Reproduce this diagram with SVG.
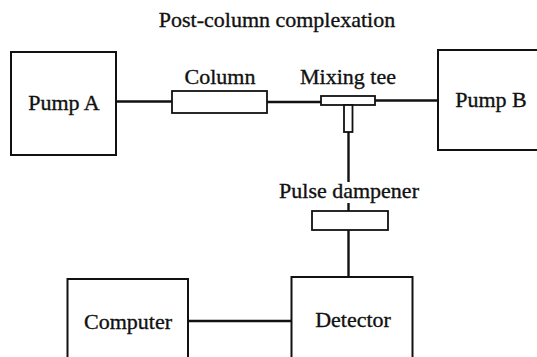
<svg xmlns="http://www.w3.org/2000/svg" width="537" height="357" viewBox="0 0 537 357">
  <style>
    .box { fill: #fff; stroke: #111; stroke-width: 2; }
    .part { fill: #fff; stroke: #111; stroke-width: 1.8; }
    .pipe { fill: none; stroke: #111; stroke-width: 2.4; }
    text { font-family: 'Liberation Serif', 'DejaVu Serif', serif; font-size: 22px; fill: #111; stroke: #111; stroke-width: 0.35; text-anchor: middle; }
  </style>
  <rect width="537" height="357" fill="#fff"/>

  <text x="277" y="27" font-family="Liberation Serif, serif">Post-column complexation</text>

  <!-- tubing and signal lines -->
  <g id="connectors">
    <line class="pipe" x1="116" y1="101.5" x2="172" y2="101.5"/>
    <line class="pipe" x1="267" y1="102" x2="321" y2="102"/>
    <line class="pipe" x1="375" y1="100.5" x2="438" y2="100.5"/>
    <line class="pipe" x1="348.5" y1="132" x2="348.5" y2="182"/>
    <line class="pipe" x1="348.5" y1="203" x2="348.5" y2="211"/>
    <line class="pipe" x1="348.5" y1="230" x2="348.5" y2="277"/>
    <line class="pipe" x1="188" y1="321" x2="291.5" y2="321"/>
  </g>

  <g id="pump-a">
    <rect class="box" x="11" y="52" width="105" height="103"/>
    <text x="64" y="110" font-family="Liberation Serif, serif">Pump A</text>
  </g>

  <g id="column">
    <rect class="part" x="172" y="91" width="95" height="22"/>
    <text x="220" y="84" font-family="Liberation Serif, serif">Column</text>
  </g>

  <g id="mixing-tee">
    <rect class="part" x="321" y="96" width="54" height="9"/>
    <rect class="part" x="344" y="105" width="8.5" height="27"/>
    <text x="348" y="84" font-family="Liberation Serif, serif">Mixing tee</text>
  </g>

  <g id="pump-b">
    <rect class="box" x="438" y="50" width="110" height="100"/>
    <text x="491" y="107" font-family="Liberation Serif, serif">Pump B</text>
  </g>

  <g id="pulse-dampener">
    <text x="349" y="198" font-family="Liberation Serif, serif">Pulse dampener</text>
    <rect class="part" x="312" y="211" width="76" height="19"/>
  </g>

  <g id="detector">
    <rect class="box" x="291.5" y="277" width="121" height="90"/>
    <text x="353" y="327" font-family="Liberation Serif, serif">Detector</text>
  </g>

  <g id="computer">
    <rect class="box" x="67.5" y="279" width="120.5" height="90"/>
    <text x="128" y="329" font-family="Liberation Serif, serif">Computer</text>
  </g>
</svg>
